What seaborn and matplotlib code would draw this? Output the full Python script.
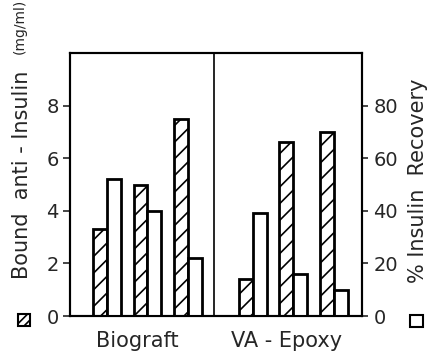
import numpy as np
import pandas as pd
import matplotlib
matplotlib.use('Agg')
import matplotlib.pyplot as plt
import matplotlib.transforms as mtransforms
from matplotlib.patches import Rectangle
import seaborn as sns

# Data
groups = ['Biograft', 'VA - Epoxy']
bound_anti_insulin = [3.3, 5.0, 7.5, 1.4, 6.6, 7.0]      # mg/ml, hatched bars (left axis)
insulin_recovery = [52, 40, 22, 39, 16, 10]               # %, open bars (right axis)
left_ticks = [0, 2, 4, 6, 8]
right_ticks = [0, 20, 40, 60, 80]

# Layout: three pairs per group, pairs spaced 1 apart, groups offset by 3.6
n_per_group = 3
group_offset = 3.6
half = 0.17
pair_pos = np.array([g * group_offset + i for g in range(len(groups)) for i in range(n_per_group)])

df = pd.DataFrame({
    'pos_hatch': pair_pos - half,
    'pos_open': pair_pos + half,
    'bound': bound_anti_insulin,
    'recovery': insulin_recovery,
})

sns.set_style('ticks')
plt.rcParams['font.family'] = ['DejaVu Sans']
plt.rcParams['hatch.linewidth'] = 1.2

fig = plt.figure(figsize=(4.36, 3.54), dpi=100)
ax = fig.add_axes([0.1606, 0.1073, 0.670, 0.743])
ax2 = ax.twinx()

sns.barplot(data=df, x='pos_hatch', y='bound', native_scale=True, width=0.34,
            errorbar=None, color='white', edgecolor='black', linewidth=2,
            hatch='//', ax=ax)
sns.barplot(data=df, x='pos_open', y='recovery', native_scale=True, width=0.34,
            errorbar=None, color='white', edgecolor='black', linewidth=2,
            ax=ax2)

for a in (ax, ax2):
    a.set_xlim(-0.91, 6.30)
    a.set_xticks([])
    a.set_xlabel('')
    a.set_ylabel('')
    for s in a.spines.values():
        s.set_visible(True)
        s.set_linewidth(1.5)
        s.set_color('black')

ax.set_ylim(0, 10)
ax.set_yticks(left_ticks)
ax2.set_ylim(0, 100)
ax2.set_yticks(right_ticks)
ax.tick_params(axis='y', direction='out', length=5, width=1.2, pad=3, labelsize=14)
ax2.tick_params(axis='y', direction='out', length=4, width=1.2, pad=4, labelsize=14)

# divider between the two groups
ax.axvline(2.64, color='black', lw=1.2)

# group labels
trans = mtransforms.blended_transform_factory(ax.transData, ax.transAxes)
ax.text(0.74, -0.118, groups[0], transform=trans, ha='center', va='baseline', fontsize=15)
ax.text(4.44, -0.118, groups[1], transform=trans, ha='center', va='baseline', fontsize=15)

# axis labels with legend squares
fig.text(22 / 436, 1 - 279 / 354, 'Bound  anti - Insulin', rotation=90,
         ha='center', va='bottom', fontsize=15)
fig.text(20 / 436, 1 - 54 / 354, '(mg/ml)', rotation=90,
         ha='center', va='bottom', fontsize=10)
fig.text(418 / 436, 1 - 283 / 354, '% Insulin  Recovery', rotation=90,
         ha='center', va='bottom', fontsize=15)

fig.patches.append(Rectangle((18 / 436, 1 - 326 / 354), 12 / 436, 12 / 354,
                             transform=fig.transFigure, facecolor='white',
                             edgecolor='black', lw=1.5, hatch='////'))
fig.patches.append(Rectangle((410 / 436, 1 - 327 / 354), 13 / 436, 12 / 354,
                             transform=fig.transFigure, facecolor='white',
                             edgecolor='black', lw=1.5))

fig.savefig('out.png', dpi=100)
